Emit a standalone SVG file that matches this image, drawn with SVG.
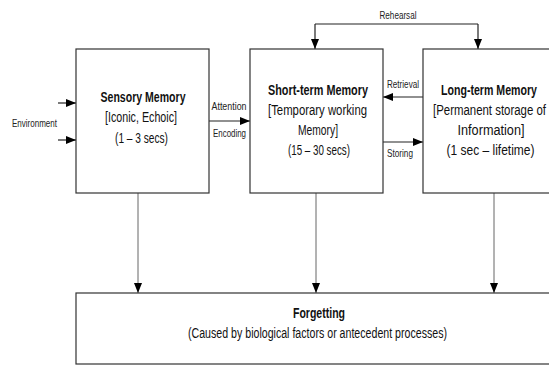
<svg xmlns="http://www.w3.org/2000/svg" width="549" height="367" viewBox="0 0 549 367">
<defs>
<style>
.box{fill:#fff;stroke:#333;stroke-width:1.2}
.t{font-family:"Liberation Sans",Arial,sans-serif;font-size:14px;fill:#111;text-anchor:middle}
.b{font-weight:bold}
.s{font-family:"Liberation Sans",Arial,sans-serif;font-size:10.5px;fill:#222;text-anchor:middle}
.ln{fill:none;stroke:#222;stroke-width:1.2}
.lg{fill:none;stroke:#666;stroke-width:1}
</style>
<marker id="ah" viewBox="0 0 10 8" refX="10" refY="4" markerWidth="10" markerHeight="8" markerUnits="userSpaceOnUse" orient="auto">
<path d="M0,0 L10,4 L0,8 Z" fill="#000"/>
</marker>
</defs>
<rect width="549" height="367" fill="#fff"/>
<g id="connectors">
<line class="ln" x1="58" y1="103" x2="76" y2="103" marker-end="url(#ah)"/>
<line class="ln" x1="58" y1="140" x2="76" y2="140" marker-end="url(#ah)"/>
<line class="ln" x1="209" y1="121" x2="250" y2="121" marker-end="url(#ah)"/>
<line class="ln" x1="423" y1="97" x2="383" y2="97" marker-end="url(#ah)"/>
<line class="ln" x1="383" y1="142" x2="423" y2="142" marker-end="url(#ah)"/>
<polyline class="ln" points="478,24 315,24"/>
<line class="ln" x1="315" y1="24" x2="315" y2="49" marker-end="url(#ah)"/>
<line class="ln" x1="478" y1="24" x2="478" y2="49" marker-end="url(#ah)"/>
<line class="lg" x1="138" y1="193" x2="138" y2="293" marker-end="url(#ah)"/>
<line class="lg" x1="316" y1="193" x2="316" y2="293" marker-end="url(#ah)"/>
<line class="lg" x1="494" y1="193" x2="494" y2="293" marker-end="url(#ah)"/>
<text class="s" x="34.5" y="127" textLength="45" lengthAdjust="spacingAndGlyphs">Environment</text>
<text class="s" x="229" y="110" textLength="35" lengthAdjust="spacingAndGlyphs">Attention</text>
<text class="s" x="229.5" y="137" textLength="33" lengthAdjust="spacingAndGlyphs">Encoding</text>
<text class="s" x="398" y="19" textLength="37" lengthAdjust="spacingAndGlyphs">Rehearsal</text>
<text class="s" x="403" y="88" textLength="32" lengthAdjust="spacingAndGlyphs">Retrieval</text>
<text class="s" x="400" y="157" textLength="26" lengthAdjust="spacingAndGlyphs">Storing</text>
</g>
<g id="sensory">
<rect class="box" x="76" y="49" width="133" height="144"/>
<text class="t b" x="143" y="102" textLength="85" lengthAdjust="spacingAndGlyphs">Sensory Memory</text>
<text class="t" x="141" y="122" textLength="72" lengthAdjust="spacingAndGlyphs">[Iconic, Echoic]</text>
<text class="t" x="141.5" y="143" textLength="53" lengthAdjust="spacingAndGlyphs">(1 – 3 secs)</text>
</g>
<g id="stm">
<rect class="box" x="250" y="49" width="133" height="144"/>
<text class="t b" x="318" y="95" textLength="100" lengthAdjust="spacingAndGlyphs">Short-term Memory</text>
<text class="t" x="317.5" y="115" textLength="99" lengthAdjust="spacingAndGlyphs">[Temporary working</text>
<text class="t" x="318" y="135" textLength="40" lengthAdjust="spacingAndGlyphs">Memory]</text>
<text class="t" x="319" y="155" textLength="62" lengthAdjust="spacingAndGlyphs">(15 – 30 secs)</text>
</g>
<g id="ltm">
<rect class="box" x="423" y="49" width="140" height="144"/>
<text class="t b" x="489" y="95" textLength="96" lengthAdjust="spacingAndGlyphs">Long-term Memory</text>
<text class="t" x="489.5" y="115" textLength="113" lengthAdjust="spacingAndGlyphs">[Permanent storage of</text>
<text class="t" x="491" y="135" textLength="67" lengthAdjust="spacingAndGlyphs">Information]</text>
<text class="t" x="490.5" y="155" textLength="88" lengthAdjust="spacingAndGlyphs">(1 sec – lifetime)</text>
</g>
<g id="forgetting">
<rect class="box" x="76" y="293" width="490" height="71"/>
<text class="t b" x="319" y="318" textLength="52" lengthAdjust="spacingAndGlyphs">Forgetting</text>
<text class="t" x="317.5" y="338" textLength="259" lengthAdjust="spacingAndGlyphs">(Caused by biological factors or antecedent processes)</text>
</g>
</svg>
